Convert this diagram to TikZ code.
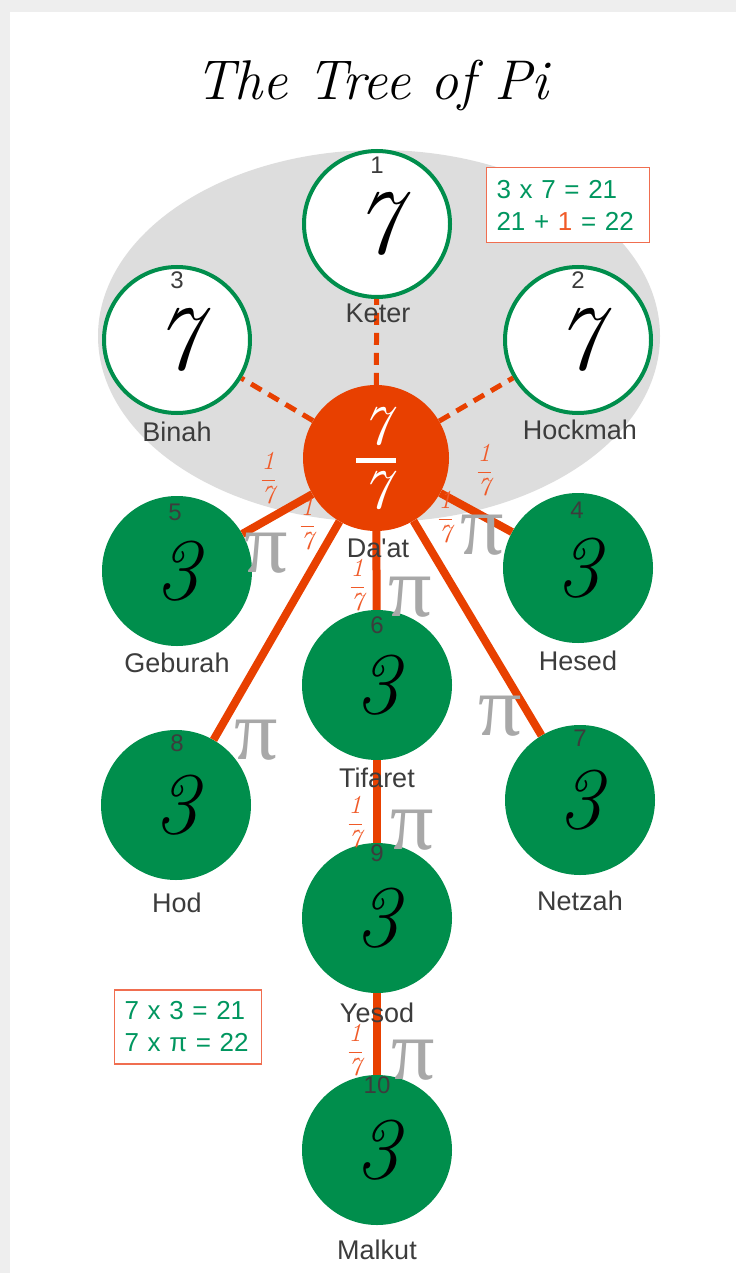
\documentclass[tikz,border=0pt]{standalone}
\usepackage{fontspec}
\usepackage{amsmath}
\newfontfamily\labelfont{Liberation Sans}
\newfontfamily\pifont{Liberation Serif}

\definecolor{treegreen}{RGB}{0,142,76}
\definecolor{textgreen}{RGB}{0,150,95}
\definecolor{treeorange}{RGB}{232,64,0}
\definecolor{fracorange}{RGB}{240,90,40}
\definecolor{boxorange}{RGB}{240,110,80}
\definecolor{veilgray}{RGB}{221,221,221}
\definecolor{labelgray}{RGB}{60,60,60}
\definecolor{pigray}{RGB}{168,168,168}
\definecolor{pagegray}{RGB}{238,238,238}

\tikzset{
  crown/.style={circle, draw=treegreen, line width=4pt, fill=white,
    minimum size=146pt, inner sep=0pt,
    font=\fontsize{92}{92}\selectfont\itshape},
  sefira/.style={circle, fill=treegreen, minimum size=150pt, inner sep=0pt,
    font=\fontsize{88}{88}\selectfont\itshape},
  daatdisc/.style={circle, fill=treeorange, minimum size=146pt, inner sep=0pt},
  sefname/.style={text=labelgray, font=\labelfont\fontsize{27}{27}\selectfont, inner sep=0pt},
  numtag/.style={text=labelgray, font=\labelfont\fontsize{24}{24}\selectfont, inner sep=0pt},
  branch/.style={draw=treeorange, line width=8pt},
  veil/.style={draw=treeorange, line width=5pt, dash pattern=on 12pt off 8pt},
  seventh/.style={text=fracorange, font=\fontsize{26}{30}\selectfont, inner sep=0pt},
  pimark/.style={text=pigray, font=\pifont\fontsize{86}{86}\selectfont, inner sep=0pt},
  calcbox/.style={draw=boxorange, line width=1.5pt, fill=white, text=textgreen,
    font=\labelfont\fontsize{26}{32}\selectfont, align=left,
    inner xsep=10pt, inner ysep=6pt}
}

\begin{document}
\begin{tikzpicture}[x=1pt, y=-1pt]

  % ============================================================
  % Page and title
  % ============================================================
  \useasboundingbox (0,0) rectangle (736,1273);
  \fill[pagegray] (0,0) rectangle (736,1273);
  \fill[white] (10,12) rectangle (736,1273);

  \node[font=\fontsize{56}{56}\selectfont\itshape, anchor=base] (title)
    at (372,100) {The Tree of Pi};

  % grey veil behind the supernal triad
  \fill[veilgray] (379,336) ellipse [x radius=281, y radius=186];

  % ============================================================
  % Sefirot
  % ============================================================
  \node[crown] (keter)   at (377,224) {7};
  \node[crown] (hockmah) at (578,340) {7};
  \node[crown] (binah)   at (177,340) {7};

  \node[daatdisc] (daat) at (376,458) {};

  \node[sefira] (hesed)   at (578,568) {3};
  \node[sefira] (geburah) at (177,571) {3};
  \node[sefira] (tifaret) at (377,685) {3};
  \node[sefira] (netzah)  at (580,800) {3};
  \node[sefira] (hod)     at (176,805) {3};
  \node[sefira] (yesod)   at (377,918) {3};
  \node[sefira] (malkut)  at (377,1150) {3};

  % Da'at carries 7/7
  \node[text=white, font=\fontsize{56}{56}\selectfont\itshape, inner sep=0pt]
    (daat-num) at (376,426) {7};
  \node[fill=white, minimum width=40pt, minimum height=5pt, inner sep=0pt]
    (daat-bar) at (376,460) {};
  \node[text=white, font=\fontsize{56}{56}\selectfont\itshape, inner sep=0pt]
    (daat-den) at (376,490) {7};

  % ============================================================
  % Paths
  % ============================================================
  \foreach \s in {keter, hockmah, binah}
    \draw[veil] (daat) -- (\s);

  \foreach \s in {hesed, geburah, tifaret, netzah, hod}
    \draw[branch] (daat) -- (\s);
  \draw[branch] (tifaret) -- (yesod);
  \draw[branch] (yesod) -- (malkut);

  % ============================================================
  % Names and numbers
  % ============================================================
  \foreach \s/\txt/\lx/\ly in {
      keter/Keter/378/313,
      binah/Binah/177/432,
      hockmah/Hockmah/580/430,
      daat/Da'at/378/548,
      geburah/Geburah/177/663,
      hesed/Hesed/578/661,
      tifaret/Tifaret/377/778,
      hod/Hod/177/903,
      netzah/Netzah/580/901,
      yesod/Yesod/377/1013,
      malkut/Malkut/377/1250}
    \node[sefname] (name-\s) at (\lx,\ly) {\txt};

  \foreach \n/\nx/\ny in {
      1/377/165, 2/578/280, 3/177/280,
      4/577/510, 5/175/512, 6/377/625,
      7/580/738, 8/177/743, 9/377/853, 10/377/1085}
    \node[numtag] (num-\n) at (\nx,\ny) {\n};

  % one-seventh marks along the branches
  \foreach \fx/\fy [count=\k] in {
      268/478, 307/524, 484/470, 445/517,
      357/585, 355/822, 355/1050}
    \node[seventh] (seventh-\k) at (\fx,\fy) {$\dfrac{\mathit{1}}{\mathit{7}}$};

  % pi marks
  \foreach \px/\py [count=\k] in {
      266/553, 482/535, 410/597, 256/740,
      500/716, 412/830, 413/1060}
    \node[pimark] (pi-\k) at (\px,\py) {π};

  % ============================================================
  % Sums
  % ============================================================
  \node[calcbox, text width=143pt, minimum height=75pt] (sum-top) at (568,205)
    {3 x 7 = 21\\21 + {\color{fracorange}1} = 22};
  \node[calcbox, text width=127pt, minimum height=74pt] (sum-low) at (188,1027)
    {7 x 3 = 21\\7 x π = 22};

\end{tikzpicture}
\end{document}
